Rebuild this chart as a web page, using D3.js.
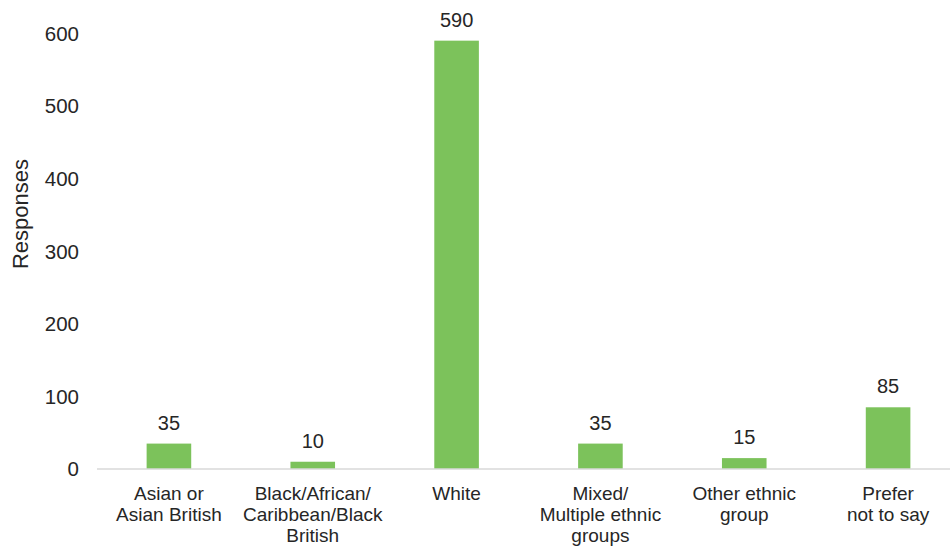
<!DOCTYPE html>
<html>
<head>
<meta charset="utf-8">
<script src="https://cdn.jsdelivr.net/npm/d3@7"></script>
<style>
  html, body { margin: 0; padding: 0; background: #fff; }
  svg { display: block; font-family: "Liberation Sans", Arial, sans-serif; }
</style>
</head>
<body>
<svg id="chart" width="950" height="546"></svg>
<script>
// Survey responses by ethnic group
const categories = [
  ["Asian or", "Asian British"],
  ["Black/African/", "Caribbean/Black", "British"],
  ["White"],
  ["Mixed/", "Multiple ethnic", "groups"],
  ["Other ethnic", "group"],
  ["Prefer", "not to say"]
];
const responses = [35, 10, 590, 35, 15, 85];
const yTicks = [0, 100, 200, 300, 400, 500, 600];

const svg = d3.select("#chart");
const textColor = "#262626";

const x = d3.scaleBand()
  .domain(d3.range(categories.length))
  .range([97, 960])
  .paddingInner(0.69)
  .paddingOuter(0.345);

const y = d3.scaleLinear().domain([0, 600]).range([469, 33.4]);

// Y tick labels
svg.append("g")
  .selectAll("text")
  .data(yTicks)
  .join("text")
  .attr("x", 79)
  .attr("y", d => y(d))
  .attr("dy", "0.36em")
  .attr("text-anchor", "end")
  .attr("font-size", 20.5)
  .attr("fill", textColor)
  .text(d => d);

// Y axis title
svg.append("text")
  .attr("transform", "translate(28,214) rotate(-90)")
  .attr("text-anchor", "middle")
  .attr("font-size", 22)
  .attr("fill", textColor)
  .text("Responses");

// Bars
svg.append("g")
  .selectAll("rect")
  .data(responses)
  .join("rect")
  .attr("x", (d, i) => x(i))
  .attr("width", x.bandwidth())
  .attr("y", d => y(d))
  .attr("height", d => y(0) - y(d))
  .attr("fill", "#7cc25b");

// Baseline
svg.append("line")
  .attr("x1", 97).attr("x2", 950)
  .attr("y1", y(0)).attr("y2", y(0))
  .attr("stroke", "#d9d9d9")
  .attr("stroke-width", 1.5);

// Value labels
svg.append("g")
  .selectAll("text")
  .data(responses)
  .join("text")
  .attr("x", (d, i) => x(i) + x.bandwidth() / 2)
  .attr("y", d => y(d) - 14)
  .attr("text-anchor", "middle")
  .attr("font-size", 20)
  .attr("fill", textColor)
  .text(d => d);

// Category labels
const labels = svg.append("g")
  .selectAll("text")
  .data(categories)
  .join("text")
  .attr("x", (d, i) => x(i) + x.bandwidth() / 2)
  .attr("y", 499.5)
  .attr("text-anchor", "middle")
  .attr("font-size", 19)
  .attr("fill", textColor);

labels.selectAll("tspan")
  .data(d => d)
  .join("tspan")
  .attr("x", function () { return d3.select(this.parentNode).attr("x"); })
  .attr("dy", (d, j) => j === 0 ? 0 : 21.4)
  .text(d => d);
</script>
</body>
</html>
